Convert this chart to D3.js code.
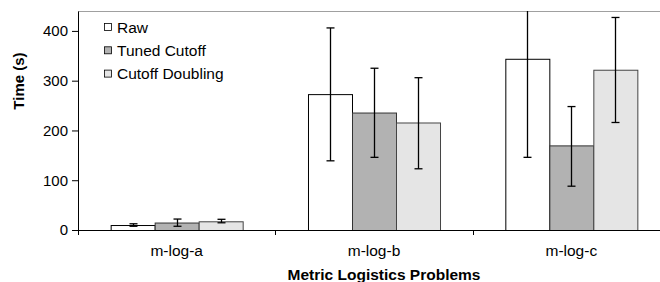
<!DOCTYPE html>
<html>
<head>
<meta charset="utf-8">
<script src="https://cdn.jsdelivr.net/npm/d3@7"></script>
<style>
    body { margin: 0; background: #fff; }
    text { font-family: "Liberation Sans", Arial, sans-serif; fill: #000; }
</style>
</head>
<body>
<div id="chart"></div>
<script>

// chart values
const categories = ["m-log-a", "m-log-b", "m-log-c"];
const seriesNames = ["Raw", "Tuned Cutoff", "Cutoff Doubling"];
const seriesColors = ["#ffffff", "#b2b2b2", "#e5e5e5"];
const seriesStrokes = ["#000000", "#333333", "#444444"];

const rawValues = [10, 273, 344];
const tunedValues = [15, 236, 170];
const doublingValues = [17.5, 216, 322];

// error bar ranges (low, high)
const rawLow = [7.5, 139, 146];
const rawHigh = [12.5, 406, 542];
const tunedLow = [7.5, 146, 88];
const tunedHigh = [22, 325, 248];
const doublingLow = [14.5, 123, 216];
const doublingHigh = [21.5, 306, 427];

const yTicks = [0, 100, 200, 300, 400];

const margin = {top: 11, right: -10, bottom: 52, left: 78};
const width = 660 - margin.left - margin.right;
const height = 282 - margin.top - margin.bottom;

const svg = d3.select("#chart").append("svg")
    .attr("width", 660)
    .attr("height", 282);

const g = svg.append("g")
    .attr("transform", "translate(" + margin.left + "," + margin.top + ")");

const values = [rawValues, tunedValues, doublingValues];
const lows = [rawLow, tunedLow, doublingLow];
const highs = [rawHigh, tunedHigh, doublingHigh];

const x = d3.scaleBand()
    .domain(categories)
    .range([0, width])
    .paddingInner(0.331)
    .paddingOuter(0.1655);

const xSeries = d3.scaleBand()
    .domain(seriesNames)
    .range([0, x.bandwidth()]);

const y = d3.scaleLinear()
    .domain([0, 440])
    .range([height, 0]);

// clip to plot area
svg.append("defs").append("clipPath")
    .attr("id", "plotClip")
    .append("rect")
    .attr("x", 0).attr("y", 0)
    .attr("width", width).attr("height", height);

// top border of plot area
g.append("line")
    .attr("x1", 0).attr("x2", width)
    .attr("y1", 0.5).attr("y2", 0.5)
    .attr("stroke", "#a0a0a0")
    .attr("stroke-width", 1);

const plot = g.append("g").attr("clip-path", "url(#plotClip)");

// flatten into rows
let rows = [];
categories.forEach((c, i) => {
    seriesNames.forEach((s, j) => {
        rows.push({cat: c, series: s, idx: j, value: values[j][i], low: lows[j][i], high: highs[j][i]});
    });
});

plot.selectAll(".bar")
    .data(rows)
    .enter().append("rect")
    .attr("class", "bar")
    .attr("x", d => x(d.cat) + xSeries(d.series) + 0.5)
    .attr("y", d => y(d.value) + 0.5)
    .attr("width", xSeries.bandwidth())
    .attr("height", d => y(0) - y(d.value))
    .attr("fill", d => seriesColors[d.idx])
    .attr("stroke", d => seriesStrokes[d.idx])
    .attr("stroke-width", 1);

// error bars
const cx = d => Math.round(x(d.cat) + xSeries(d.series) + xSeries.bandwidth() / 2) + 0.5;

const err = plot.selectAll(".err")
    .data(rows)
    .enter().append("g")
    .attr("class", "err")
    .attr("stroke", "#000")
    .attr("stroke-width", 1.3);

err.append("line")
    .attr("x1", cx).attr("x2", cx)
    .attr("y1", d => y(d.low)).attr("y2", d => y(d.high));

err.append("line")
    .attr("x1", d => cx(d) - 4).attr("x2", d => cx(d) + 4)
    .attr("y1", d => y(d.low)).attr("y2", d => y(d.low));

err.append("line")
    .attr("x1", d => cx(d) - 4).attr("x2", d => cx(d) + 4)
    .attr("y1", d => y(d.high)).attr("y2", d => y(d.high));

// y axis
const yAxis = g.append("g")
    .attr("class", "y-axis")
    .call(d3.axisLeft(y).tickValues(yTicks).tickSize(6).tickSizeOuter(0).tickPadding(4));

yAxis.select(".domain").attr("stroke", "#000");
yAxis.selectAll(".tick line").attr("stroke", "#000");
yAxis.selectAll("text")
    .style("font-size", "15px")
    .attr("fill", "#000");

// x axis: ticks at category boundaries
const xAxisG = g.append("g")
    .attr("transform", "translate(0," + height + ")");

xAxisG.append("line")
    .attr("x1", 0).attr("x2", width)
    .attr("y1", 0.5).attr("y2", 0.5)
    .attr("stroke", "#000");

xAxisG.selectAll(".xtick")
    .data(d3.range(categories.length + 1))
    .enter().append("line")
    .attr("class", "xtick")
    .attr("x1", i => Math.round(i * x.step()) + 0.5)
    .attr("x2", i => Math.round(i * x.step()) + 0.5)
    .attr("y1", 0).attr("y2", 5)
    .attr("stroke", "#000");

xAxisG.selectAll(".xlabel")
    .data(categories)
    .enter().append("text")
    .attr("class", "xlabel")
    .attr("x", d => x(d) + x.bandwidth() / 2)
    .attr("y", 26)
    .attr("text-anchor", "middle")
    .style("font-size", "15.5px")
    .text(d => d);

// axis titles
svg.append("text")
    .attr("x", 384)
    .attr("y", 280)
    .attr("text-anchor", "middle")
    .style("font-size", "15.5px")
    .style("font-weight", "bold")
    .text("Metric Logistics Problems");

svg.append("text")
    .attr("transform", "translate(24,81) rotate(-90)")
    .attr("text-anchor", "middle")
    .style("font-size", "15px")
    .style("font-weight", "bold")
    .text("Time (s)");

// legend
const legend = svg.append("g")
    .attr("transform", "translate(104,23)");

const legendItems = legend.selectAll(".legend-item")
    .data(seriesNames)
    .enter().append("g")
    .attr("class", "legend-item")
    .attr("transform", (d, i) => "translate(0," + (i * 23.3) + ")");

legendItems.append("rect")
    .attr("x", 0.5).attr("y", 0.5)
    .attr("width", 7).attr("height", 7)
    .attr("fill", (d, i) => seriesColors[i])
    .attr("stroke", "#000")
    .attr("stroke-width", 0.8);

legendItems.append("text")
    .attr("x", 13)
    .attr("y", 9.5)
    .style("font-size", "15.5px")
    .text(d => d);

</script>
</body>
</html>
